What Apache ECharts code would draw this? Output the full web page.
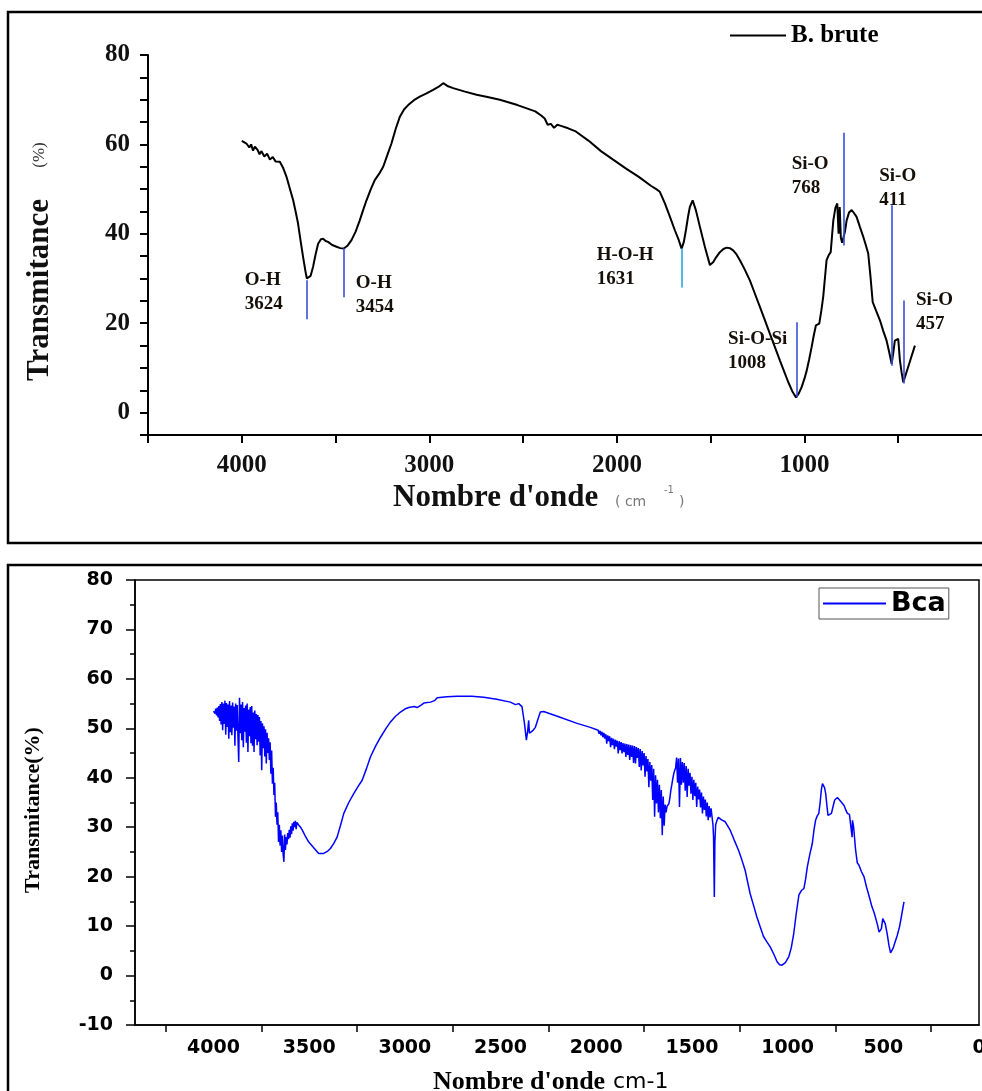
<!DOCTYPE html>
<html>
<head>
<meta charset="utf-8">
<script src="https://cdn.jsdelivr.net/npm/echarts@6/dist/echarts.min.js"></script>
<style>
html,body{margin:0;padding:0;background:#fff;overflow:hidden;}
#chart{width:982px;height:1091px;}
</style>
</head>
<body>
<div id="chart"></div>
<script>
// ---------- DATA ----------
// Panel 1 : B. brute  [wavenumber cm-1, transmittance %]
const bruteSpectrum = [
[4000,60.8],[3975,60.2],[3960,59.3],[3950,60.0],[3940,58.6],[3930,59.5],[3915,58.7],[3905,57.8],[3895,58.5],
[3880,57.3],[3865,57.9],[3850,56.6],[3835,57.2],[3820,56.2],[3797,56.1],[3780,54.8],[3762,52.8],[3745,50.3],
[3726,47.5],[3712,44.8],[3700,42.3],[3686,38.3],[3673,34.8],[3660,31.5],[3653,30.0],[3646,29.6],[3633,30.6],
[3620,32.6],[3606,35.5],[3593,37.8],[3578,38.8],[3566,38.9],[3553,38.4],[3540,38.2],[3518,37.5],[3495,37.1],
[3475,36.8],[3456,36.7],[3435,37.4],[3415,38.6],[3393,40.5],[3371,43.0],[3353,45.3],[3335,47.5],[3313,49.9],
[3291,52.0],[3268,53.4],[3246,55.0],[3224,57.6],[3202,60.2],[3180,63.4],[3157,66.2],[3135,67.8],[3113,68.8],
[3082,69.9],[3051,70.7],[3015,71.4],[2980,72.2],[2950,72.9],[2926,73.7],[2900,73.0],[2873,72.6],[2810,71.8],
[2748,71.1],[2690,70.6],[2624,70.0],[2530,68.8],[2435,67.4],[2402,66.4],[2385,65.8],[2369,64.4],[2352,64.6],
[2335,63.7],[2318,64.4],[2302,64.2],[2260,63.6],[2219,62.9],[2150,60.8],[2085,58.5],[2020,56.6],[1951,54.6],
[1885,52.8],[1817,50.7],[1790,50.0],[1771,49.4],[1744,46.8],[1717,43.8],[1691,40.8],[1672,38.8],[1655,36.7],
[1643,38.2],[1632,40.8],[1620,44.0],[1611,46.0],[1596,47.5],[1579,45.3],[1557,41.5],[1531,37.1],[1504,33.0],
[1486,33.7],[1470,34.8],[1451,35.9],[1432,36.6],[1415,36.9],[1398,36.8],[1380,36.3],[1362,35.4],[1344,34.1],
[1318,32.0],[1291,29.6],[1264,26.6],[1237,23.6],[1210,20.6],[1184,17.6],[1157,14.6],[1131,11.7],[1108,9.2],
[1086,6.8],[1065,4.8],[1045,3.4],[1030,4.3],[1015,5.7],[1000,7.6],[988,9.4],[975,11.9],[962,14.6],[950,17.3],
[939,19.5],[930,19.8],[921,19.9],[910,22.8],[900,25.9],[891,30.0],[882,34.1],[871,35.2],[860,35.9],[853,39.5],
[846,43.0],[835,45.8],[825,46.8],[818,40.0],[812,46.0],[806,39.2],[799,38.0],[793,37.8],[784,40.5],[775,43.0],
[762,44.8],[748,45.3],[735,44.6],[722,43.8],[704,41.5],[686,39.3],[673,37.5],[660,35.6],[648,30.5],[636,24.7],
[616,22.6],[597,20.6],[580,18.3],[562,16.1],[548,13.5],[535,10.9],[526,13.5],[518,16.1],[509,16.3],[500,16.5],
[491,11.7],[482,9.0],[473,6.8],[460,8.5],[447,10.2],[429,12.6],[411,15.0]
];

// Band annotations of panel 1
const bandText   = ['O-H\n3624','O-H\n3454','H-O-H\n1631','Si-O-Si\n1008','Si-O\n768','Si-O\n411','Si-O\n457'];
const bandLineWn = [3653, 3456, 1655, 1042, 793, 532, 468];
const bandLineTop    = [29.6, 36.8, 36.8, 20.2, 62.6, 46.4, 25.1];
const bandLineBottom = [20.9, 25.8, 28.0, 3.4, 37.4, 10.5, 6.5];
const bandLabelWn = [3984, 3392, 2108, 1407, 1068, 601, 405];
const bandLabelT  = [27.0, 26.3, 32.6, 13.7, 52.9, 50.3, 22.5];

// Panel 2 : Bca  [wavenumber cm-1, transmittance %]
const bcaSpectrum = [
[4000,53.5],[3996,53.8],[3992,53.0],[3988,54.0],[3984,52.6],[3980,54.2],[3976,52.2],[3972,54.5],[3968,51.5],
[3964,54.9],[3960,50.8],[3956,55.3],[3952,49.6],[3948,55.0],[3944,50.9],[3940,55.6],[3936,48.7],[3932,55.1],
[3928,50.3],[3924,54.8],[3920,47.9],[3916,55.5],[3912,49.2],[3908,54.6],[3904,48.6],[3900,55.2],[3896,50.1],
[3892,54.4],[3888,46.5],[3884,55.0],[3880,49.5],[3876,54.7],[3872,48.2],[3868,43.2],[3864,56.2],[3860,49.0],
[3856,54.8],[3852,47.6],[3848,55.3],[3844,46.2],[3840,54.1],[3836,49.3],[3832,54.6],[3828,47.1],[3824,55.0],
[3820,45.2],[3816,53.8],[3812,48.4],[3808,54.3],[3804,47.0],[3800,54.5],[3796,46.5],[3792,53.2],[3788,45.2],
[3784,53.6],[3780,47.8],[3776,52.9],[3772,46.6],[3768,52.7],[3764,47.3],[3760,52.3],[3756,44.5],[3752,51.5],
[3748,41.5],[3744,51.0],[3740,46.0],[3736,50.4],[3732,44.3],[3728,49.8],[3724,42.9],[3720,49.1],[3716,45.0],
[3712,48.0],[3708,43.6],[3704,47.2],[3700,40.8],[3696,45.5],[3692,38.8],[3688,42.0],[3684,36.5],[3680,39.0],
[3676,32.1],[3672,35.0],[3668,30.5],[3664,33.0],[3660,27.0],[3656,30.5],[3652,26.3],[3648,29.4],[3644,25.0],
[3640,28.3],[3636,24.6],[3632,23.0],[3628,28.5],[3624,25.4],[3620,28.0],[3616,26.5],[3612,28.8],[3608,27.6],
[3604,29.5],[3600,27.9],[3596,30.2],[3592,28.6],[3588,30.8],[3584,29.3],[3580,31.1],[3576,30.0],[3572,31.3],
[3568,29.6],[3564,31.0],[3556,30.5],[3545,30.0],[3536,29.4],[3520,28.2],[3502,27.0],[3475,25.8],[3450,24.7],
[3424,24.7],[3405,25.1],[3389,25.7],[3372,26.7],[3354,28.0],[3336,30.4],[3319,32.8],[3293,35.0],[3267,36.8],
[3245,38.2],[3223,39.5],[3200,41.9],[3180,44.2],[3153,46.4],[3127,48.2],[3100,49.9],[3075,51.3],[3050,52.4],
[3023,53.3],[3000,53.9],[2980,54.2],[2950,54.4],[2936,54.2],[2927,54.0],[2915,54.7],[2901,55.1],[2866,55.3],
[2845,55.6],[2831,56.2],[2780,56.4],[2727,56.5],[2650,56.5],[2588,56.3],[2520,55.9],[2449,55.3],[2422,54.8],
[2405,55.0],[2388,54.4],[2375,51.0],[2365,47.6],[2358,49.5],[2353,51.6],[2349,49.0],[2344,48.9],[2330,49.6],
[2318,50.2],[2300,52.4],[2292,53.3],[2275,53.4],[2200,52.4],[2100,51.0],[2031,50.2],
[1990,49.6],[1985,48.9],[1980,49.5],[1975,48.6],[1970,49.3],[1965,48.2],[1960,49.1],[1955,47.9],[1950,48.8],
[1945,46.9],[1940,48.6],[1935,47.4],[1930,48.4],[1925,46.2],[1920,48.1],[1915,46.6],[1910,47.9],[1905,45.8],
[1900,47.7],[1895,46.3],[1890,47.5],[1885,44.9],[1880,47.4],[1875,45.6],[1870,47.2],[1865,44.9],[1860,47.0],
[1855,45.2],[1850,46.9],[1845,44.2],[1840,46.8],[1835,44.6],[1830,46.7],[1825,43.6],[1820,46.6],[1815,44.2],
[1810,46.5],[1805,43.0],[1800,46.4],[1795,42.9],[1790,46.2],[1785,44.0],[1780,46.0],[1775,42.2],[1770,45.8],
[1765,41.5],[1760,45.4],[1755,42.5],[1750,45.0],[1745,40.2],[1740,44.4],[1735,41.3],[1730,43.8],[1725,38.1],
[1720,43.2],[1715,39.4],[1710,42.6],[1705,35.5],[1700,41.8],[1695,32.1],[1690,40.5],[1685,34.8],[1680,39.6],
[1675,33.0],[1670,38.6],[1665,31.8],[1660,37.5],[1655,28.4],[1650,36.2],[1645,30.3],[1640,34.6],[1635,33.0],
[1630,34.2],[1625,34.0],[1620,34.8],[1615,36.0],[1610,37.5],[1605,38.6],[1600,39.8],[1595,40.8],[1590,41.5],
[1585,42.0],[1580,44.1],[1575,39.0],[1570,43.9],[1565,34.1],[1560,44.0],[1555,38.6],[1550,43.2],[1545,39.0],
[1540,43.0],[1535,37.4],[1530,42.4],[1525,36.1],[1520,41.8],[1515,38.4],[1510,41.0],[1505,36.8],[1500,40.2],
[1495,35.5],[1490,39.6],[1485,36.3],[1480,39.0],[1475,34.1],[1470,38.2],[1465,35.6],[1460,37.6],[1455,34.0],
[1450,37.0],[1445,32.8],[1440,36.2],[1435,33.5],[1430,35.6],[1425,32.2],[1420,35.0],[1415,31.4],[1410,34.3],
[1405,32.0],[1400,33.8],[1395,33.4],[1390,30.5],[1387,28.0],[1383,15.9],[1380,27.0],[1376,30.5],[1369,31.4],
[1362,32.0],[1356,32.1],[1345,31.5],[1335,31.4],[1326,31.1],[1300,29.4],[1280,27.5],[1257,25.4],[1240,23.5],
[1222,21.3],[1196,16.6],[1178,14.2],[1161,11.9],[1143,9.8],[1126,7.9],[1110,6.9],[1091,5.8],[1072,4.3],
[1055,2.8],[1042,2.2],[1029,2.1],[1012,2.6],[994,3.8],[981,5.6],[968,8.5],[955,12.5],[941,16.3],[928,17.2],
[915,17.6],[906,19.5],[897,22.0],[884,24.5],[871,26.7],[862,29.5],[854,31.4],[845,32.3],[837,32.8],[830,35.0],
[824,37.5],[818,38.8],[813,38.8],[807,38.0],[801,36.8],[795,34.5],[789,32.4],[780,32.4],[771,32.8],[762,34.3],
[754,35.5],[747,35.9],[740,36.0],[722,35.2],[705,34.4],[696,33.5],[688,32.8],[677,32.6],[670,33.0],[667,32.8],
[663,28.0],[661,31.4],[655,30.0],[645,25.5],[636,22.8],[627,22.3],[614,21.0],[601,20.0],[587,17.8],[573,15.9],
[560,14.0],[547,12.6],[532,10.5],[522,8.8],[517,8.4],[510,9.5],[503,11.5],[497,11.9],[490,10.5],[480,8.5],
[470,6.0],[462,4.6],[455,4.5],[448,5.6],[441,6.5],[428,8.0],[415,9.9],[403,12.5],[392,14.9]
];

// ---------- STYLE ----------
const SERIF = '"Liberation Serif","Times New Roman",serif';
const SANS = '"DejaVu Sans",Arial,sans-serif';
const bandColors = ['#3a4fd8','#3a4fd8','#2aa5df','#3a4fd8','#3a4fd8','#3a4fd8','#3a4fd8'];
const labelColor = '#150f08';

const chart = echarts.init(document.getElementById('chart'), null, {renderer:'canvas'});

const option = {
  animation: false,
  backgroundColor: '#fff',
  grid: [
    {left:148, width:844, top:55, height:380, containLabel:false, outerBoundsMode:'none'},
    {left:135, width:844, top:580, height:445, containLabel:false, outerBoundsMode:'none',
     show:true, borderColor:'#000', borderWidth:1.5}
  ],
  legend: [
    {
      data:[{name:'B. brute', icon:'rect'}],
      left:730, top:23, padding:0, itemWidth:56, itemHeight:2,
      textStyle:{fontFamily:SERIF, fontWeight:'bold', fontSize:25, color:'#000'}
    },
    {
      data:[{name:'Bca', icon:'rect'}],
      left:819, top:588, padding:[2,3,2,4], itemWidth:63, itemHeight:2,
      borderColor:'#555', borderWidth:1,
      textStyle:{fontFamily:SANS, fontWeight:'bold', fontSize:27, color:'#000'}
    }
  ],
  xAxis: [
    {
      gridIndex:0, type:'value', inverse:true, min:0, max:4500, interval:500,
      axisLine:{show:true, onZero:false, lineStyle:{color:'#000', width:2}},
      axisTick:{show:true, length:8, lineStyle:{color:'#000', width:2}},
      splitLine:{show:false},
      axisLabel:{margin:18, fontFamily:SERIF, fontWeight:'bold', fontSize:25, color:'#111',
        formatter:v => (v % 1000 === 0 ? String(v) : '')}
    },
    {
      gridIndex:1, type:'value', inverse:true, min:0, max:4410, interval:500,
      axisLine:{show:true, onZero:false, lineStyle:{color:'#000', width:1.5}},
      axisTick:{show:false},
      minorTick:{show:true, splitNumber:2, length:7, lineStyle:{color:'#000', width:1.5}},
      splitLine:{show:false},
      axisLabel:{margin:14, fontFamily:SANS, fontWeight:'bold', fontSize:19, color:'#000',
        formatter:v => (v % 500 === 0 && v <= 4000 ? String(v) : '')}
    }
  ],
  yAxis: [
    {
      gridIndex:0, type:'value', min:-5, max:80, interval:5,
      axisLine:{show:true, onZero:false, lineStyle:{color:'#000', width:2}},
      axisTick:{show:true, length:8, lineStyle:{color:'#000', width:2}},
      splitLine:{show:false},
      axisLabel:{margin:18, fontFamily:SERIF, fontWeight:'bold', fontSize:25, color:'#111',
        formatter:v => (v % 20 === 0 ? String(v) : '')}
    },
    {
      gridIndex:1, type:'value', min:-10, max:80, interval:10,
      axisLine:{show:true, onZero:false, lineStyle:{color:'#000', width:1.5}},
      axisTick:{show:true, length:9, lineStyle:{color:'#000', width:1.5}},
      minorTick:{show:true, splitNumber:2, length:5, lineStyle:{color:'#000', width:1.5}},
      splitLine:{show:false},
      axisLabel:{margin:22, fontFamily:SANS, fontWeight:'bold', fontSize:19, color:'#000'}
    }
  ],
  series: [
    {
      name:'B. brute', type:'line', xAxisIndex:0, yAxisIndex:0,
      data: bruteSpectrum, showSymbol:false, symbol:'none', smooth:false,
      color:'#000', lineStyle:{color:'#000', width:2},
      markLine:{
        silent:true, symbol:['none','none'], label:{show:false},
        data: bandLineWn.map((w,i) => [
          {coord:[w, bandLineTop[i]], lineStyle:{color:bandColors[i], width:1.6, type:'solid'}},
          {coord:[w, bandLineBottom[i]]}
        ])
      },
      z:3
    },
    {
      name:'bands', type:'scatter', xAxisIndex:0, yAxisIndex:0,
      data: bandLabelWn.map((w,i) => ({value:[w, bandLabelT[i]], name:bandText[i]})),
      symbolSize:0, itemStyle:{color:labelColor}, silent:true,
      label:{show:true, position:[0,0], align:'left', verticalAlign:'middle',
        formatter:p => p.name, fontFamily:SERIF, fontWeight:'bold', fontSize:19, lineHeight:24,
        color:labelColor, textBorderWidth:0, opacity:1},
      z:4
    },
    {
      name:'Bca', type:'line', xAxisIndex:1, yAxisIndex:1,
      data: bcaSpectrum, showSymbol:false, symbol:'none', smooth:false,
      color:'#0000ff', lineStyle:{color:'#0000ff', width:1.5}
    }
  ],
  graphic: [
    {type:'rect', shape:{x:8, y:12, width:1100, height:531}, style:{fill:'none', stroke:'#000', lineWidth:2.5}, silent:true},
    {type:'rect', shape:{x:8, y:565, width:1100, height:700}, style:{fill:'none', stroke:'#000', lineWidth:2.5}, silent:true},
    // panel 1 axis titles
    {type:'text', x:40, y:290, rotation:Math.PI/2,
      style:{text:'Transmitance', fontFamily:SERIF, fontWeight:'bold', fontSize:31, fill:'#111', align:'center', verticalAlign:'middle'}},
    {type:'text', x:40, y:155, rotation:Math.PI/2,
      style:{text:'(%)', fontFamily:SERIF, fontSize:17, fill:'#333', align:'center', verticalAlign:'middle'}},
    {type:'text', x:393, y:498,
      style:{text:"Nombre d'onde", fontFamily:SERIF, fontWeight:'bold', fontSize:31, fill:'#111', align:'left', verticalAlign:'middle'}},
    {type:'text', x:615, y:502,
      style:{text:'( cm', fontFamily:SANS, fontSize:14, fill:'#777', align:'left', verticalAlign:'middle'}},
    {type:'text', x:664, y:490,
      style:{text:'-1', fontFamily:SANS, fontSize:10, fill:'#777', align:'left', verticalAlign:'middle'}},
    {type:'text', x:679, y:502,
      style:{text:')', fontFamily:SANS, fontSize:14, fill:'#777', align:'left', verticalAlign:'middle'}},
    // panel 2 axis titles
    {type:'text', x:33, y:810, rotation:Math.PI/2,
      style:{text:'Transmitance(%)', fontFamily:SERIF, fontWeight:'bold', fontSize:22, fill:'#000', align:'center', verticalAlign:'middle'}},
    {type:'text', x:433, y:1082,
      style:{text:"Nombre d'onde", fontFamily:SERIF, fontWeight:'bold', fontSize:26, fill:'#000', align:'left', verticalAlign:'middle'}},
    {type:'text', x:613, y:1082,
      style:{text:'cm-1', fontFamily:SANS, fontSize:22, fill:'#000', align:'left', verticalAlign:'middle'}}
  ]
};
chart.setOption(option);
</script>
</body>
</html>
